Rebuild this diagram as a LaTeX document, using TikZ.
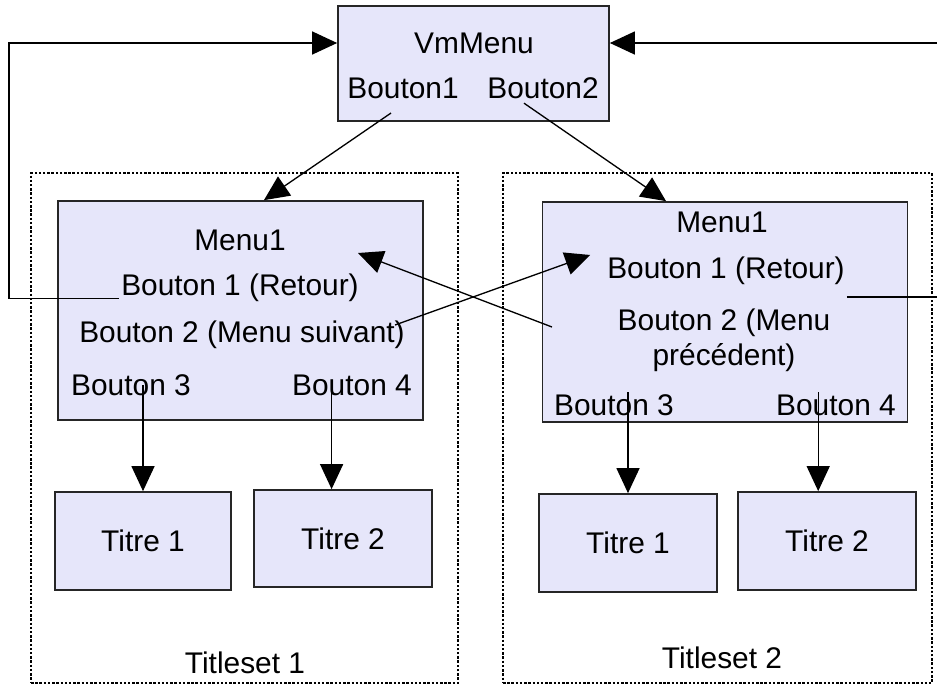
\documentclass[tikz,border=0pt]{standalone}
\usepackage{fontspec}
\setmainfont{Liberation Sans}
\usepackage{xcolor}
\usetikzlibrary{arrows.meta}
\definecolor{lavande}{RGB}{230,230,250}
\tikzset{
  boite/.style={draw=black!85, line width=1pt, fill=lavande, inner sep=0pt},
  cadre/.style={draw, line width=0.7pt, dash pattern=on 1.4pt off 1pt, inner sep=0pt},
  etiq/.style={inner sep=1pt},
  fleche/.style={line width=0.75pt, -{Triangle[length=0.5cm,width=0.46cm]}},
}
\begin{document}
\begin{tikzpicture}[x=0.02cm, y=-0.02cm, font=\fontsize{17}{20}\selectfont]
                    \useasboundingbox (0,0) rectangle (937,687);
                    \node [cadre, minimum width=8.54cm, minimum height=10.2cm] (ts1) at (244.5,428) {};
                    \node [cadre, minimum width=8.58cm, minimum height=10.2cm] (ts2) at (717.5,428) {};
                    \node [etiq] (ts1lbl) at (245,663) {Titleset 1};
                    \node [etiq] (ts2lbl) at (722,658) {Titleset 2};
                    \node [boite, minimum width=5.42cm, minimum height=2.3cm] (vm) at (473.5,63.5) {};
                    \node [etiq] (vmtitre) at (474,43) {VmMenu};
                    \node [etiq] (vmb1) at (403,88) {Bouton1};
                    \node [etiq] (vmb2) at (543,88) {Bouton2};
                    \node [boite, minimum width=7.3cm, minimum height=4.38cm] (m1) at (240.5,310.5) {};
                    \node [etiq] (m1titre) at (240,240) {Menu1};
                    \node [etiq] (l1) at (240,288) {Bouton 1 (Retour)};
                    \node [etiq] (l2) at (242,335) {Bouton 2 (Menu suivant)};
                    \node [etiq] (l3) at (131,385) {Bouton 3};
                    \node [etiq] (l4) at (352,385) {Bouton 4};
                    \node [boite, minimum width=7.3cm, minimum height=4.4cm] (m2) at (725,312) {};
                    \node [etiq] (m2titre) at (722,222) {Menu1};
                    \node [etiq] (r1) at (726,271) {Bouton 1 (Retour)};
                    \node [etiq, align=center] (r2) at (724,340) {Bouton 2 (Menu\\pr\'ec\'edent)};
                    \node [etiq] (r3) at (614,405) {Bouton 3};
                    \node [etiq] (r4) at (836,405) {Bouton 4};
                    \node [boite, minimum width=3.52cm, minimum height=1.96cm] (t1) at (143,541) {Titre 1};
                    \node [boite, minimum width=3.56cm, minimum height=1.94cm] (t2) at (343,538.5) {Titre 2};
                    \node [boite, minimum width=3.56cm, minimum height=1.96cm] (t3) at (628,543) {Titre 1};
                    \node [boite, minimum width=3.56cm, minimum height=1.96cm] (t4) at (827,541) {Titre 2};
                    \coordinate (retourg) at (9,43);
                    \coordinate (retourd) at (937,43);
                    \coordinate (retourd2) at (937,297);
                    \coordinate (suivdep) at (395,325);
                    \coordinate (precdep) at (552,327);
                    \coordinate (precarr) at (358,253);
                    \draw [fleche] ([shift={(-0.24cm,-0.25cm)}]vmb1.south) -- (m1.78);
                    \draw [fleche] ([shift={(-0.38cm,-0.05cm)}]vmb2.south) -- (m2.118);
                    \draw [fleche] (suivdep) -- ([xshift=-0.3cm]r1.north west);
                    \draw [fleche] (precdep) -- (precarr);
                    \draw [fleche] ([yshift=-0.05cm]l1.base west) -| (retourg) -- (vm.west |- retourg);
                    \draw [fleche] (retourd) -- (vm.east |- retourd);
                    \draw [line width=0.75pt] (r1.south east |- retourd2) -- (retourd2);
                    \draw [fleche] (t1.north |- l3.center) -- (t1.north);
                    \draw [fleche] (t2.103 |- l4.center) -- (t2.103);
                    \draw [fleche] (t3.north |- r3.north) -- (t3.north);
                    \draw [fleche] (t4.100 |- r4.north) -- (t4.100);
                \end{tikzpicture}
\end{document}
